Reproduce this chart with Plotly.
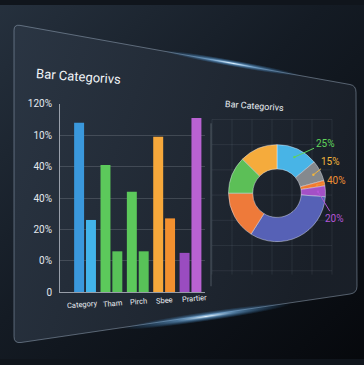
import base64
import math
import plotly.graph_objects as go

W, H = 364, 365

# ---------------- data ----------------
categories = ["Category", "Tham", "Pirch", "Sbee", "Prartier"]
series_a = [5.4, 4.05, 3.2, 4.95, 1.25]
series_b = [2.3, 1.3, 1.3, 2.35, 5.55]
colors_a = ["#3a98dc", "#5cc95b", "#5cc95b", "#f6a83b", "#9a4cc0"]
colors_b = ["#42b4ea", "#58c258", "#58c258", "#f2902f", "#b962d2"]

ytick_vals = [0, 1, 2, 3, 4, 5, 6]
ytick_text = ["0", "0%", "20%", "40%", "40%", "10%", "120%"]

pie_labels = ["Sky", "Slate", "Tangerine", "Violet", "Indigo", "Coral", "Lime", "Amber"]
pie_values = [13.9, 6.9, 1.8, 3.6, 32.8, 16.0, 12.4, 12.6]
pie_colors = ["#48b4e6", "#85898e", "#f07a30", "#a450c6", "#5661b6", "#ee7a3a", "#5cbf57", "#f5ab3c"]

callout_text = ["25%", "15%", "40%", "20%"]
callout_slice = [0, 1, 2, 3]
callout_color = ["#5fd35a", "#f2b53b", "#f29035", "#b455d6"]
callout_pos = [(325, 143), (330, 162), (336, 181), (334, 219)]  # text positions (px)

title_text = "Bar Categorivs"

FONT = "Roboto, sans-serif"

# ---------------- background (decoration) ----------------
svg = f"""<svg xmlns='http://www.w3.org/2000/svg' width='{W}' height='{H}' viewBox='0 0 {W} {H}' preserveAspectRatio='none'>
<defs>
<linearGradient id='bg' x1='0' y1='0' x2='1' y2='1'>
<stop offset='0' stop-color='#26313e'/><stop offset='0.45' stop-color='#141b24'/><stop offset='1' stop-color='#06080c'/>
</linearGradient>
<linearGradient id='pn' x1='0' y1='0' x2='1' y2='0.3'>
<stop offset='0' stop-color='#2b3644' stop-opacity='0.95'/><stop offset='1' stop-color='#1a2029' stop-opacity='0.95'/>
</linearGradient>
<radialGradient id='g1'><stop offset='0' stop-color='#e8f6ff' stop-opacity='1'/><stop offset='0.35' stop-color='#7cc3ff' stop-opacity='0.55'/><stop offset='1' stop-color='#3a8fd8' stop-opacity='0'/></radialGradient>
</defs>
<rect x='-5' y='-5' width='{W + 10}' height='{H + 10}' fill='url(#bg)'/>
<path d='M 14,26 Q 14,20 20,21 L 350,82 Q 356,83 356,90 L 357,290 Q 357,297 350,298 L 21,348 Q 14,349 14,342 Z' fill='url(#pn)' stroke='#a9bccf' stroke-opacity='0.45' stroke-width='1'/>
<ellipse cx='232' cy='60' rx='70' ry='3.5' fill='url(#g1)' transform='rotate(10.5 232 60)'/>
<ellipse cx='207' cy='321' rx='85' ry='5' fill='url(#g1)' transform='rotate(-8.6 207 321)'/>
</svg>"""
bg_uri = "data:image/svg+xml;base64," + base64.b64encode(svg.encode()).decode()

fig = go.Figure()

fig.add_trace(go.Bar(x=categories, y=series_a, marker=dict(color=colors_a, line=dict(width=0)),
                     showlegend=False, hoverinfo="skip"))
fig.add_trace(go.Bar(x=categories, y=series_b, marker=dict(color=colors_b, line=dict(width=0)),
                     showlegend=False, hoverinfo="skip"))

# pie geometry (pixels)
pcx, pcy, pr = 277, 194, 50
fig.add_trace(go.Pie(labels=pie_labels, values=pie_values, hole=0.5, sort=False,
                     direction="clockwise", rotation=0,
                     marker=dict(colors=pie_colors, line=dict(color="rgba(235,240,250,0.55)", width=0.8)),
                     textinfo="none", showlegend=False, hoverinfo="skip",
                     domain=dict(x=[(pcx - pr) / W, (pcx + pr) / W],
                                 y=[1 - (pcy + pr) / H, 1 - (pcy - pr) / H])))

annotations = []
total = sum(pie_values)
cum = [sum(pie_values[:i]) for i in range(len(pie_values))]
for txt, si, col, (tx, ty) in zip(callout_text, callout_slice, callout_color, callout_pos):
    ang = math.radians((cum[si] + pie_values[si] / 2) / total * 360)
    rr = 0.82 * pr
    px = pcx + rr * math.sin(ang)
    py = pcy - rr * math.cos(ang)
    annotations.append(dict(x=px / W, y=1 - py / H, xref="paper", yref="paper",
                            text=txt, showarrow=True, ax=tx - px, ay=ty - py,
                            arrowhead=6, arrowsize=0.6, arrowwidth=1, arrowcolor=col,
                            font=dict(family=FONT, size=10, color=col)))

# category labels placed under each bar group, following the panel's slant
label_shift = [-3, 2, 1, 0, 4]
for i, cat in enumerate(categories):
    annotations.append(dict(x=cat, xref="x", y=1 - (309 - 1.5 * i) / H, yref="paper",
                            xanchor="center", yanchor="middle", xshift=label_shift[i],
                            text=cat, showarrow=False, textangle=-5,
                            font=dict(family=FONT, size=7.5, color="#e8ecf0")))

annotations.append(dict(x=33 / W, y=1 - 74 / H, xref="paper", yref="paper", xanchor="left",
                        yanchor="middle", text=title_text, showarrow=False, textangle=4,
                        font=dict(family=FONT, size=13, color="#f2f5f8")))
annotations.append(dict(x=223 / W, y=1 - 104 / H, xref="paper", yref="paper", xanchor="left",
                        yanchor="middle", text=title_text, showarrow=False, textangle=4,
                        font=dict(family=FONT, size=9, color="#e6ebf0")))

shapes = []
# separator between panels
shapes.append(dict(type="line", xref="paper", yref="paper", x0=211 / W, x1=211 / W,
                   y0=1 - 290 / H, y1=1 - 122 / H, line=dict(color="rgba(220,230,240,0.25)", width=1)))
# right faint grid
for gx in range(212, 335, 20):
    shapes.append(dict(type="line", xref="paper", yref="paper", x0=gx / W, x1=gx / W,
                       y0=1 - 278 / H, y1=1 - 118 / H, line=dict(color="rgba(220,230,240,0.08)", width=1),
                       layer="below"))
for gy in range(118, 280, 26):
    shapes.append(dict(type="line", xref="paper", yref="paper", x0=212 / W, x1=332 / W,
                       y0=1 - gy / H, y1=1 - gy / H, line=dict(color="rgba(220,230,240,0.08)", width=1),
                       layer="below"))

fig.update_layout(
    width=W, height=H, margin=dict(l=0, r=0, t=0, b=0),
    paper_bgcolor="#10151c", plot_bgcolor="rgba(0,0,0,0)",
    barmode="group", bargap=0.1, bargroupgap=0.16,
    images=[dict(source=bg_uri, xref="paper", yref="paper", x=0, y=1, sizex=1, sizey=1,
                 sizing="stretch", layer="below", xanchor="left", yanchor="top")],
    xaxis=dict(domain=[60 / W, 205 / W], range=[-0.95, 4.55], showgrid=False,
               showline=True, linecolor="rgba(230,235,245,0.6)", linewidth=1, ticks="",
               showticklabels=False, fixedrange=True),
    yaxis=dict(domain=[1 - 296 / H, 1 - 102 / H], range=[0, 6], tickvals=ytick_vals,
               ticktext=ytick_text, showgrid=True, gridcolor="rgba(230,235,245,0.16)", gridwidth=1,
               zeroline=False, showline=True, linecolor="rgba(230,235,245,0.6)", linewidth=1,
               ticks="outside", ticklen=5, tickcolor="rgba(0,0,0,0)",
               tickfont=dict(family=FONT, size=10, color="#e3e8ee"), fixedrange=True),
    annotations=annotations, shapes=shapes,
)

fig.write_html("out.html", config={"displayModeBar": False},
               post_script="document.documentElement.style.margin='0';document.body.style.margin='0';"
                           "document.body.style.overflow='hidden';document.body.style.background='#10151c';")
